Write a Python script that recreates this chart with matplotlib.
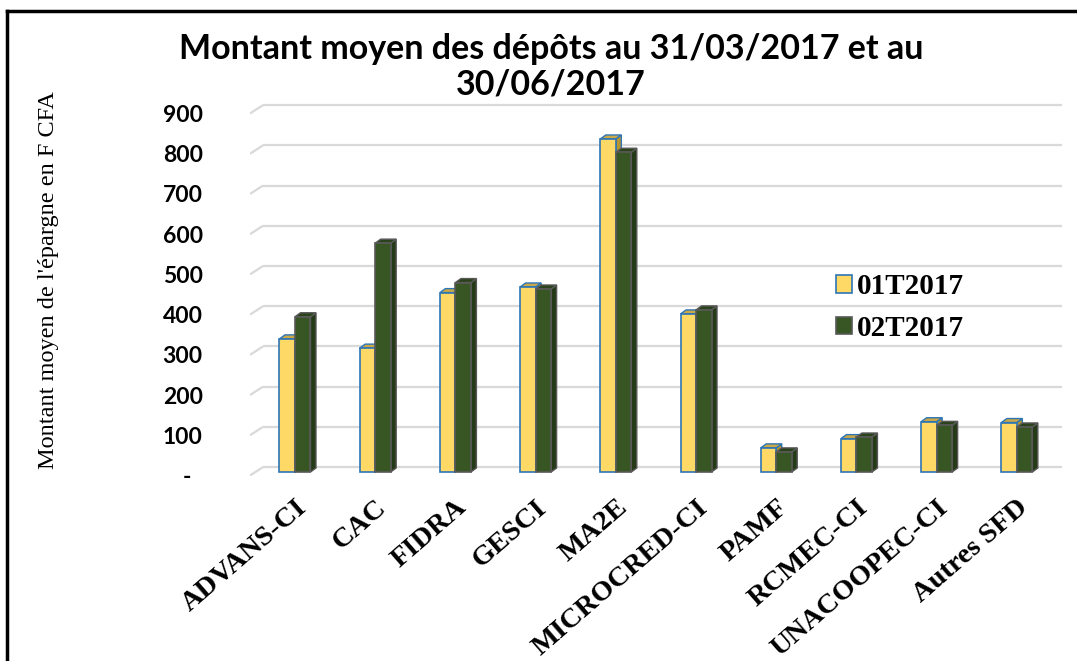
import numpy as np
import matplotlib
matplotlib.use("Agg")
import matplotlib.pyplot as plt
from matplotlib.patches import Polygon, Patch
from matplotlib.lines import Line2D

# data
categories = ["ADVANS-CI", "CAC", "FIDRA", "GESCI", "MA2E", "MICROCRED-CI",
              "PAMF", "RCMEC-CI", "UNACOOPEC-CI", "Autres SFD"]
t1_2017 = [331, 308, 446, 460, 828, 393, 60, 83, 125, 123]
t2_2017 = [386, 569, 471, 455, 795, 403, 50, 87, 116, 112]
series_names = ["01T2017", "02T2017"]
yticks = [0, 100, 200, 300, 400, 500, 600, 700, 800, 900]
ytick_labels = ["-  "] + [str(v) for v in yticks[1:]]

W, H = 1077, 661
fig = plt.figure(figsize=(W / 100, H / 100), dpi=100)
ax = fig.add_axes([250 / W, 1 - 475.5 / H, 812 / W, 375.5 / H])
ax.set_xlim(-0.561, 9.563)
ax.set_ylim(0, 933.6)

# pixel -> data conversion for the fake 3D depth
px_x = 1 / 80.2
px_y = 1 / 0.4022

# gridlines: slanted stub + back wall line
gdx, gdy = 13 * px_x, 8.4 * px_y
x_left, x_right = ax.get_xlim()
for v in yticks:
    ax.plot([x_left, x_left + gdx], [v, v + gdy], color="#d9d9d9", lw=1.6,
            solid_capstyle="butt", zorder=1)
    ax.plot([x_left + gdx, x_right], [v + gdy, v + gdy], color="#d9d9d9",
            lw=1.6, solid_capstyle="butt", zorder=1)

bw = 15.5 * px_x
bdx, bdy = 5.5 * px_x, 4 * px_y
base = 3.5 * px_y

styles = [
    dict(front="#FFD966", top="#C9A847", side="#B8962E", edge="#2E75B6"),
    dict(front="#375623", top="#2B431B", side="#253A17", edge="#595959"),
]


def bar3d(x0, val, st, z):
    x1 = x0 + bw
    t = base + val
    side = Polygon([(x1, base), (x1 + bdx, base + bdy), (x1 + bdx, t + bdy), (x1, t)],
                   closed=True, fc=st["side"], ec=st["edge"], lw=1.0, zorder=z)
    top = Polygon([(x0, t), (x1, t), (x1 + bdx, t + bdy), (x0 + bdx, t + bdy)],
                  closed=True, fc=st["top"], ec=st["edge"], lw=1.0, zorder=z)
    front = Polygon([(x0, base), (x1, base), (x1, t), (x0, t)],
                    closed=True, fc=st["front"], ec=st["edge"], lw=1.2, zorder=z)
    for p in (side, top, front):
        ax.add_patch(p)


x = np.arange(len(categories))
for i in x:
    bar3d(i - bw, t1_2017[i], styles[0], 3)
    bar3d(i, t2_2017[i], styles[1], 4)

ax.set_yticks(yticks)
ax.set_yticklabels(ytick_labels, fontfamily="Lato", fontweight="bold", fontsize=16.5)
ax.set_xticks(x)
ax.set_xticklabels(categories, fontfamily="Liberation Serif", fontweight="bold",
                   fontsize=20.5, rotation=41, ha="right", rotation_mode="anchor")
ax.tick_params(axis="y", length=0, pad=34)
ax.tick_params(axis="x", length=0, pad=14)
for s in ax.spines.values():
    s.set_visible(False)

ax.set_ylabel("Montant moyen de l'épargne en F CFA", fontfamily="Liberation Serif",
              fontsize=17.5)
ax.yaxis.set_label_coords(-191 / 812, 0.52)

fig.text(551 / W, 1 - 67 / H,
         "Montant moyen des dépôts au 31/03/2017 et au\n30/06/2017",
         ha="center", va="center", fontfamily="Lato", fontweight="bold",
         fontsize=24.5, linespacing=1.15)

handles = [Patch(fc=styles[0]["front"], ec=styles[0]["edge"], lw=1.2),
           Patch(fc=styles[1]["front"], ec=styles[1]["edge"], lw=1.2)]
fig.legend(handles, series_names, loc="upper left",
           bbox_to_anchor=(810 / W, 1 - 247 / H), frameon=False,
           prop=dict(family="Liberation Serif", weight="bold", size=21),
           handlelength=0.55, handleheight=0.55, handletextpad=0.15,
           labelspacing=0.5)

# outer frame (top and left edges visible)
fig.add_artist(Line2D([7 / W, 7 / W], [0, 1 - 11 / H], color="black", lw=2.5))
fig.add_artist(Line2D([7 / W, 1], [1 - 11 / H, 1 - 11 / H], color="black", lw=2.5))

fig.savefig("out.png", dpi=100)
